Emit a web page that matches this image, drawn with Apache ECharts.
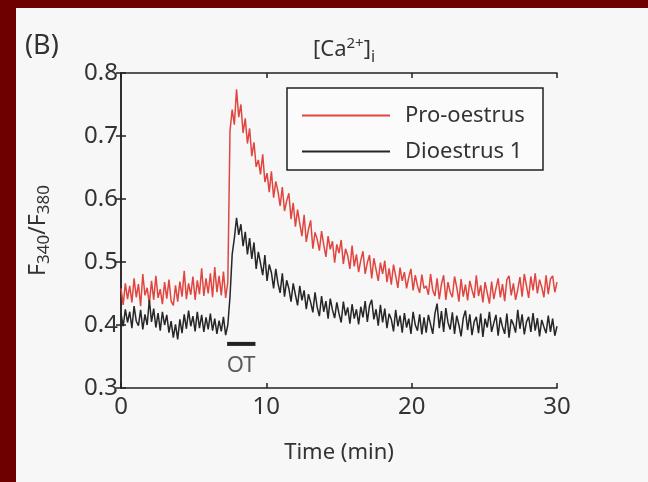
<!DOCTYPE html>
<html>
<head>
<meta charset="utf-8">
<script src="https://cdn.jsdelivr.net/npm/echarts@6/dist/echarts.min.js"></script>
<style>
html,body{margin:0;padding:0;background:#6f0000;}
#chart{width:648px;height:482px;}
</style>
</head>
<body>
<div id="chart"></div>
<script>
// Sampling interval of the traces (minutes)
const SAMPLE_STEP = 0.15;

// Pro-oestrus F340/F380 trace (t = 0 ... 30 min)
const proOestrus = [
  0.458, 0.432, 0.466, 0.441, 0.462, 0.436, 0.474, 0.444, 0.465, 0.430,
  0.481, 0.447, 0.459, 0.434, 0.470, 0.440, 0.478, 0.443, 0.457, 0.433,
  0.468, 0.442, 0.472, 0.438, 0.431, 0.463, 0.437, 0.469, 0.445, 0.486,
  0.441, 0.466, 0.448, 0.477, 0.440, 0.471, 0.449, 0.490, 0.446, 0.474,
  0.450, 0.482, 0.444, 0.492, 0.452, 0.478, 0.447, 0.485, 0.443, 0.468,
  0.708, 0.742, 0.718, 0.774, 0.730, 0.750, 0.705, 0.728, 0.688, 0.712,
  0.668, 0.690, 0.651, 0.662, 0.639, 0.671, 0.627, 0.641, 0.611, 0.644,
  0.602, 0.628, 0.612, 0.589, 0.619, 0.581, 0.597, 0.609, 0.568, 0.594,
  0.556, 0.583, 0.561, 0.541, 0.575, 0.532, 0.552, 0.566, 0.521, 0.547,
  0.536, 0.518, 0.549, 0.527, 0.508, 0.541, 0.520, 0.533, 0.499, 0.528,
  0.514, 0.535, 0.497, 0.521, 0.510, 0.489, 0.526, 0.493, 0.512, 0.484,
  0.503, 0.517, 0.481, 0.499, 0.511, 0.474, 0.506, 0.488, 0.470, 0.499,
  0.481, 0.502, 0.468, 0.490, 0.464, 0.496, 0.478, 0.459, 0.491, 0.470,
  0.484, 0.458, 0.476, 0.489, 0.455, 0.479, 0.462, 0.451, 0.480, 0.458,
  0.462, 0.448, 0.481, 0.455, 0.446, 0.474, 0.441, 0.465, 0.479, 0.440,
  0.468, 0.452, 0.444, 0.477, 0.460, 0.437, 0.473, 0.445, 0.464, 0.439,
  0.470, 0.456, 0.443, 0.479, 0.446, 0.463, 0.436, 0.468, 0.451, 0.434,
  0.469, 0.441, 0.458, 0.474, 0.444, 0.465, 0.438, 0.472, 0.478, 0.447,
  0.466, 0.440, 0.456, 0.476, 0.445, 0.481, 0.462, 0.443, 0.477, 0.455,
  0.482, 0.450, 0.472, 0.460, 0.444, 0.479, 0.449, 0.473, 0.478, 0.452,
  0.468
];

// Dioestrus 1 F340/F380 trace (t = 0 ... 30 min)
const dioestrus1 = [
  0.418, 0.398, 0.425, 0.404, 0.421, 0.395, 0.430, 0.406, 0.399, 0.424,
  0.393, 0.417, 0.400, 0.440, 0.405, 0.426, 0.396, 0.419, 0.391, 0.421,
  0.400, 0.416, 0.388, 0.406, 0.380, 0.401, 0.377, 0.409, 0.387, 0.417,
  0.394, 0.423, 0.398, 0.414, 0.390, 0.421, 0.395, 0.416, 0.389, 0.412,
  0.393, 0.418, 0.391, 0.410, 0.386, 0.407, 0.390, 0.413, 0.384, 0.400,
  0.445, 0.512, 0.538, 0.570, 0.543, 0.560, 0.525, 0.548, 0.512, 0.538,
  0.505, 0.531, 0.489, 0.516, 0.498, 0.479, 0.511, 0.470, 0.496, 0.483,
  0.458, 0.489, 0.466, 0.451, 0.482, 0.445, 0.471, 0.458, 0.437, 0.466,
  0.448, 0.431, 0.462, 0.439, 0.455, 0.425, 0.449, 0.436, 0.420, 0.452,
  0.428, 0.414, 0.446, 0.421, 0.438, 0.410, 0.442, 0.424, 0.411, 0.436,
  0.418, 0.404, 0.437, 0.415, 0.428, 0.402, 0.433, 0.410, 0.425, 0.401,
  0.429, 0.412, 0.438, 0.405, 0.431, 0.440, 0.409, 0.425, 0.399, 0.432,
  0.404, 0.426, 0.395, 0.418, 0.409, 0.390, 0.424, 0.398, 0.415, 0.388,
  0.419, 0.396, 0.410, 0.386, 0.421, 0.400, 0.391, 0.417, 0.385, 0.412,
  0.388, 0.416, 0.401, 0.386, 0.418, 0.434, 0.395, 0.422, 0.389, 0.427,
  0.404, 0.393, 0.420, 0.386, 0.415, 0.400, 0.382, 0.411, 0.423, 0.392,
  0.417, 0.384, 0.405, 0.413, 0.387, 0.418, 0.381, 0.410, 0.396, 0.421,
  0.389, 0.403, 0.416, 0.383, 0.412, 0.397, 0.386, 0.418, 0.380, 0.409,
  0.401, 0.388, 0.424, 0.394, 0.417, 0.385, 0.405, 0.413, 0.389, 0.419,
  0.391, 0.411, 0.382, 0.408, 0.397, 0.387, 0.415, 0.389, 0.410, 0.383,
  0.398
];

// Oxytocin application bar (min) and its level on the y axis
const otTimes = [7.3, 9.25];
const otLevel = 0.370;
const otLabelPoint = [8.27, 0.336];

const xTicks = [0, 10, 20, 30];
const seriesNames = ['Pro-oestrus', 'Dioestrus 1'];

const FONT = '"Noto Sans", "Open Sans", sans-serif';
const TXT = '#333';

function toPairs(arr) { return arr.map((v, i) => [i * SAMPLE_STEP, v]); }

const chart = echarts.init(document.getElementById('chart'), null, {renderer: 'canvas'});

const axisLine = {show: true, lineStyle: {color: '#222', width: 1.5}};
const tickIn = {show: true, inside: true, length: 5, lineStyle: {color: '#222', width: 1.5}};

chart.setOption({
  backgroundColor: '#6f0000',
  animation: false,
  graphic: [
    {type: 'rect', z: -10, shape: {x: 16, y: 8, width: 632, height: 474}, style: {fill: '#f7f7f8'}},
    {type: 'text', left: 25, top: 33, style: {text: '(B)', font: '27px ' + FONT, fill: TXT}},
    {type: 'rect', z: 5, shape: {x: 287, y: 88, width: 256, height: 82}, style: {fill: '#fbfbfb', stroke: '#222', lineWidth: 1.5}}
  ],
  title: {
    text: '[Ca{sup|2+}]{sub|i}',
    left: 339, top: 30, textAlign: 'center',
    textStyle: {
      color: TXT, fontFamily: FONT, fontSize: 22, fontWeight: 'normal',
      rich: {
        sup: {fontSize: 15, fontFamily: FONT, color: TXT, padding: [0, 0, 12, 0]},
        sub: {fontSize: 16, fontFamily: FONT, color: TXT, padding: [14, 0, 0, 0]}
      }
    }
  },
  legend: {
    data: seriesNames,
    orient: 'vertical',
    left: 297, top: 97,
    z: 6,
    icon: 'rect',
    itemWidth: 88, itemHeight: 2,
    itemGap: 9,
    textStyle: {color: TXT, fontFamily: FONT, fontSize: 22, lineHeight: 27, padding: [0, 0, 0, 10]},
    inactiveColor: '#ccc'
  },
  grid: {left: 121, right: 91, top: 73, bottom: 94},
  xAxis: [
    {
      type: 'value', min: 0, max: 30, interval: 10,
      name: 'Time (min)', nameLocation: 'middle', nameGap: 54,
      nameTextStyle: {color: TXT, fontFamily: FONT, fontSize: 22},
      axisLine: axisLine, axisTick: tickIn, splitLine: {show: false},
      axisLabel: {color: TXT, fontFamily: FONT, fontSize: 24, margin: 7,
        customValues: xTicks},
    },
    {
      type: 'value', position: 'top', min: 0, max: 30, interval: 10,
      axisLine: axisLine, axisTick: tickIn, axisLabel: {show: false}, splitLine: {show: false}
    }
  ],
  yAxis: [
    {
      type: 'value', min: 0.3, max: 0.8, interval: 0.1,
      name: '{m|F}{s|340}{m|/F}{s|380}', nameLocation: 'middle', nameGap: 68, nameRotate: 90,
      nameTextStyle: {
        color: TXT, fontFamily: FONT, fontSize: 23,
        rich: {
          m: {fontSize: 23, fontFamily: FONT, color: TXT},
          s: {fontSize: 17, fontFamily: FONT, color: TXT, padding: [13, 0, 0, 0]}
        }
      },
      axisLine: axisLine, axisTick: tickIn, splitLine: {show: false},
      axisLabel: {color: TXT, fontFamily: FONT, fontSize: 24, margin: 3,
        formatter: v => v.toFixed(1)}
    },
    {
      type: 'value', position: 'right', min: 0.3, max: 0.8, interval: 0.1,
      axisLine: axisLine, axisTick: tickIn, axisLabel: {show: false}, splitLine: {show: false}
    }
  ],
  series: [
    {
      name: seriesNames[0], type: 'line', data: toPairs(proOestrus),
      showSymbol: false, symbol: 'none', color: '#e0463f',
      lineStyle: {width: 1.5, color: '#e0463f'}, z: 3
    },
    {
      name: seriesNames[1], type: 'line', data: toPairs(dioestrus1),
      showSymbol: false, symbol: 'none', color: '#262626',
      lineStyle: {width: 1.5, color: '#262626'}, z: 4
    },
    {
      name: 'OT', type: 'line', data: otTimes.map(t => [t, otLevel]),
      showSymbol: false, symbol: 'none', lineStyle: {width: 4, color: '#222'}, z: 4
    },
    {
      name: 'OT label', type: 'scatter', data: [otLabelPoint], symbolSize: 0,
      label: {show: true, position: 'inside', formatter: 'OT', color: TXT, fontFamily: FONT, fontSize: 22}
    }
  ]
});
</script>
</body>
</html>
